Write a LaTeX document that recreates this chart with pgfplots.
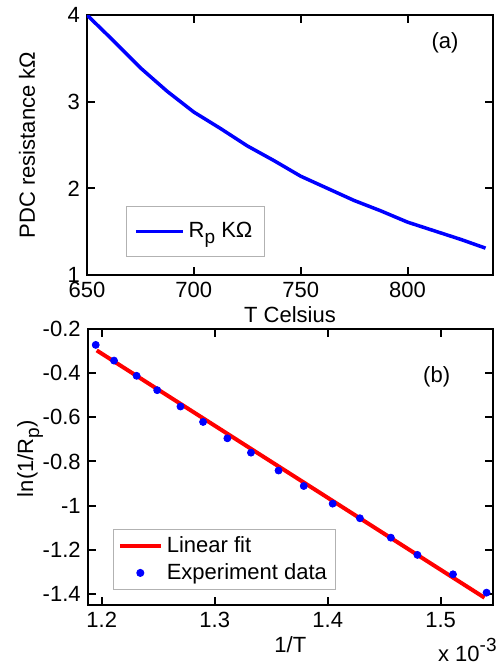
\documentclass[border=0pt]{standalone}
\usepackage{fontspec}
\setmainfont{Liberation Sans}
\usepackage{pgfplots}
\pgfplotsset{compat=1.18}

\newcommand\sub[1]{\raisebox{-3pt}{\fontsize{9.5}{10}\selectfont #1}}
\newcommand\labfont{\fontsize{11}{13}\selectfont}

\pgfplotsset{
  matlab/.style={
    scale only axis,
    axis line style={line width=1pt},
    every tick/.style={black, line width=1pt},
    major tick length=4pt,
    tick align=inside,
    /pgf/number format/assume math mode=true,
    tick label style={font=\labfont},
    label style={font=\labfont},
    legend cell align=left,
  },
  legline/.style={legend image code/.code={\draw[##1] (0pt,0pt) -- (#1,0pt);}},
  legdot/.style={legend image code/.code={\draw[##1] plot coordinates {(#1,0pt)};}},
}

\begin{document}
\begin{tikzpicture}
\useasboundingbox (0pt,0pt) rectangle (249.5pt,-334.5pt);

% (a) resistance against temperature
\begin{axis}[matlab,
  at={(43.5pt,-137.5pt)}, anchor=south west,
  width=203pt, height=130pt,
  xmin=650, xmax=840, ymin=1, ymax=4,
  xtick={650,700,750,800}, ytick={1,2,3,4},
  xlabel={T Celsius}, ylabel={PDC resistance kΩ},
  xlabel style={at={(axis description cs:0.5,-0.154)}, anchor=center},
  ylabel style={at={(axis description cs:-0.148,0.5)}, anchor=center},
  legend style={at={(axis description cs:0.0953,0.2665)}, anchor=north west,
    draw=gray!60, line width=0.5pt, inner xsep=4pt, inner ysep=6pt,
    font=\labfont},
]
\addplot[blue, line width=1.75pt, legline=23.5pt] coordinates {
  (650,4.00) (662.5,3.70) (675,3.39) (687.5,3.12) (700,2.88) (712.5,2.69)
  (725,2.49) (737.5,2.32) (750,2.14) (762.5,2.00) (775,1.86) (787.5,1.74)
  (800,1.61) (812.5,1.51) (825,1.41) (836.5,1.31)
};
\addlegendentry{R\sub{p} KΩ}
\node[font=\labfont] at (axis description cs:0.882,0.892) {(a)};
\end{axis}

% (b) Arrhenius plot
\begin{axis}[matlab, name=b,
  at={(43.85pt,-302.5pt)}, anchor=south west,
  width=202.65pt, height=138pt,
  xmin=1.1876, xmax=1.5463, ymin=-1.45, ymax=-0.2,
  xtick={1.2,1.3,1.4,1.5}, ytick={-1.4,-1.2,-1,-0.8,-0.6,-0.4,-0.2},
  xlabel={1/T}, ylabel={ln(1/R\sub{p})},
  xlabel style={at={(axis description cs:0.5,-0.145)}, anchor=center},
  ylabel style={at={(axis description cs:-0.142,0.53)}, anchor=center},
  legend style={at={(axis description cs:0.0632,0.2754)}, anchor=north west,
    draw=gray!60, line width=0.5pt, inner xsep=2pt, inner ysep=1.5pt,
    font=\labfont, row sep=0pt},
]
\addplot[red, line width=2pt, legline=20.5pt] coordinates {
  (1.1956,-0.297) (1.5388,-1.417)
};
\addlegendentry{Linear fit}
\addplot[only marks, blue, mark=*, mark size=1.75pt, legdot=10.25pt] coordinates {
  (1.1947,-0.272) (1.2109,-0.343) (1.2309,-0.412) (1.2491,-0.477)
  (1.2697,-0.551) (1.2897,-0.621) (1.3112,-0.695) (1.3321,-0.760)
  (1.3565,-0.841) (1.3788,-0.911) (1.4044,-0.991) (1.4285,-1.057)
  (1.4559,-1.145) (1.4794,-1.223) (1.5109,-1.311) (1.5406,-1.394)
};
\addlegendentry{Experiment data}
\node[font=\labfont] at (axis description cs:0.861,0.827) {(b)};
\end{axis}
\node[font=\labfont, anchor=base east, inner sep=0pt]
  at ([xshift=2pt, yshift=-28pt]b.south east)
  {x 10\raisebox{5pt}{\fontsize{9.5}{10}\selectfont -3}};
\end{tikzpicture}
\end{document}
